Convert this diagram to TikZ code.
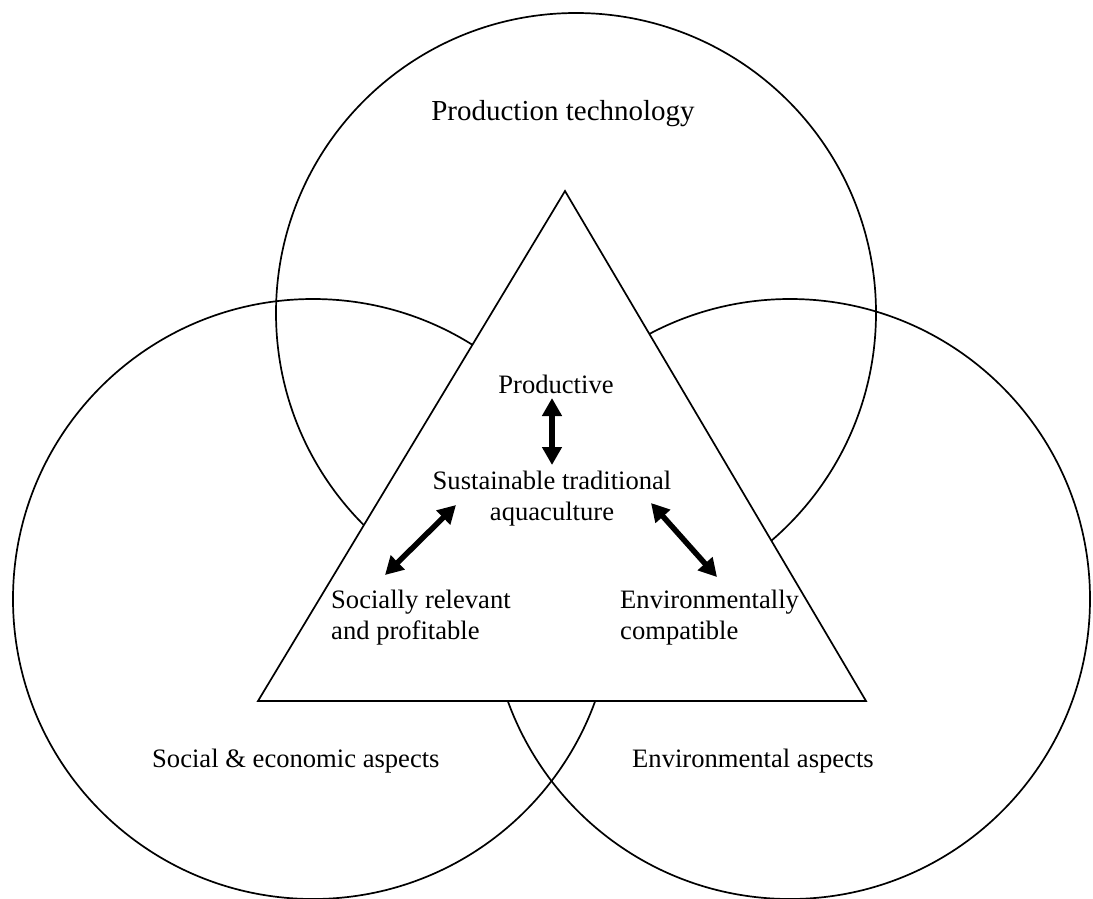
\documentclass[tikz,border=0pt]{standalone}
\usepackage{fontspec}
\setmainfont{Liberation Serif}
\usetikzlibrary{arrows.meta}
\begin{document}
\begin{tikzpicture}[x=1pt,y=-1pt,
  ring/.style={draw=black,line width=1.7pt},
  tri/.style={draw=black,fill=white,line width=1.7pt,line join=miter},
  lbl/.style={inner sep=0pt,font=\fontsize{26.6}{31}\selectfont},
  dbl/.style={line width=5.5pt,{Triangle[length=18pt,width=19pt]}-{Triangle[length=18pt,width=19pt]}}]
\useasboundingbox[fill=white] (0,0) rectangle (1093,898);
% circles
\draw[ring] (576,313) circle[radius=300];
\draw[ring] (313,599) circle[radius=300];
\draw[ring] (790,599) circle[radius=300];
% triangle
\coordinate (tA) at (565,191);
\coordinate (tB) at (258,701);
\coordinate (tC) at (866,701);
\draw[tri] (tA) -- (tB) -- (tC) -- cycle;
% labels
\node[lbl,anchor=base,font=\fontsize{29}{31}\selectfont] (prodtech) at (563,120) {Production technology};
\node[lbl,anchor=base] (productive) at (556,393) {Productive};
\node[lbl,anchor=base] (sust1) at (552,489) {Sustainable traditional};
\node[lbl,anchor=base] (sust2) at (552,520) {aquaculture};
\node[lbl,anchor=base west] (soc1) at (331,608) {Socially relevant};
\node[lbl,anchor=base west] (soc2) at (331,639) {and profitable};
\node[lbl,anchor=base west] (env1) at (620,608) {Environmentally};
\node[lbl,anchor=base west] (env2) at (620,639) {compatible};
\node[lbl,anchor=base west] (socasp) at (152,767) {Social \& economic aspects};
\node[lbl,anchor=base west] (envasp) at (632,767) {Environmental aspects};
% arrows
\coordinate (p1) at (552,398);
\coordinate (p2) at (552,465);
\coordinate (l1) at (385,575);
\coordinate (l2) at (456,505);
\coordinate (r1) at (651,503);
\coordinate (r2) at (717,577);
\draw[dbl] (p1) -- (p2);
\draw[dbl] (l1) -- (l2);
\draw[dbl] (r1) -- (r2);
\end{tikzpicture}
\end{document}
